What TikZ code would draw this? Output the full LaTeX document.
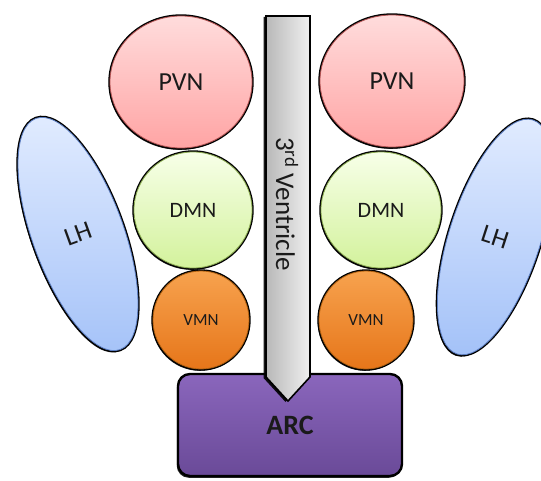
\documentclass[tikz,border=0pt]{standalone}
\usepackage{fontspec}
\setmainfont{Carlito}
\usetikzlibrary{shapes.geometric,shadows}
\definecolor{pvntop}{HTML}{FFDCDC}
\definecolor{pvnbot}{HTML}{FFA4A4}
\definecolor{pvnline}{HTML}{B05050}
\definecolor{dmntop}{HTML}{F7FFE8}
\definecolor{dmnbot}{HTML}{D3F29C}
\definecolor{dmnline}{HTML}{8AAA50}
\definecolor{vmntop}{HTML}{F7A24E}
\definecolor{vmnbot}{HTML}{E6761A}
\definecolor{vmnline}{HTML}{B06010}
\definecolor{lhtop}{HTML}{E2ECFF}
\definecolor{lhbot}{HTML}{A4C2F8}
\definecolor{lhline}{HTML}{5A7CC0}
\definecolor{arctop}{HTML}{8A66BC}
\definecolor{arcbot}{HTML}{6A4A98}
\definecolor{ventl}{HTML}{B8B8B8}
\definecolor{ventr}{HTML}{F0F0F0}
\definecolor{txt}{HTML}{1A1A1A}
\begin{document}
\begin{tikzpicture}[x=1pt,y=-1pt,
  shadowed/.style={drop shadow={shadow xshift=-1.2pt, shadow yshift=-1.8pt, opacity=0.85, fill=black}},
  outlined/.style={preaction={draw=black, line width=3.4pt}},
  nuc/.style={ellipse, inner sep=0pt, line width=0.8pt, shadowed, outlined, text=txt},
  pvn/.style={nuc, draw=pvnline, top color=pvntop, bottom color=pvnbot, minimum width=#1, minimum height=132pt, font=\fontsize{26}{30}\selectfont},
  dmn/.style={nuc, draw=dmnline, top color=dmntop, bottom color=dmnbot, minimum width=#1, minimum height=116pt, font=\fontsize{22}{26}\selectfont},
  vmn/.style={nuc, draw=vmnline, top color=vmntop, bottom color=vmnbot, minimum width=#1, minimum height=98pt, font=\fontsize{17}{20}\selectfont},
  lh/.style={nuc, draw=lhline, top color=lhtop, bottom color=lhbot, minimum width=91pt, minimum height=246pt, font=\fontsize{26}{30}\selectfont},
]
\useasboundingbox (0,0) rectangle (541,481);
\clip (0,0) rectangle (541,481);
% ARC
\node[draw=black, line width=2.4pt, rounded corners=12pt, minimum width=224pt, minimum height=102pt,
      top color=arctop, bottom color=arcbot, shadowed, text=txt, font=\fontsize{28}{32}\selectfont\bfseries]
      (arc) at (290,425) {ARC};
% 3rd ventricle
\path[draw=black, line width=1.6pt, left color=ventl, right color=ventr,
      drop shadow={shadow xshift=-2.5pt, shadow yshift=-1pt, opacity=0.9, fill=black}]
  (266,16) -- (310,16) -- (310,377) -- (288,401) -- (266,377) -- cycle;
\node[rotate=-90, text=txt, font=\fontsize{27}{30}\selectfont] (v3) at (287,204) {3\textsuperscript{rd} Ventricle};
% nuclei
\node[pvn=142pt] (pvnL) at (181,82) {PVN};
\node[pvn=144pt] (pvnR) at (392,81) {PVN};
\node[dmn=118pt] (dmnL) at (193,210) {DMN};
\node[dmn=120pt] (dmnR) at (381,210) {DMN};
\node[vmn=96pt] (vmnL) at (201,320) {VMN};
\node[vmn=94pt] (vmnR) at (366,320) {VMN};
\node[lh, rotate=20] (lhL) at (78,234) {LH};
\node[lh, rotate=-18] (lhR) at (495,237) {LH};
\end{tikzpicture}
\end{document}
